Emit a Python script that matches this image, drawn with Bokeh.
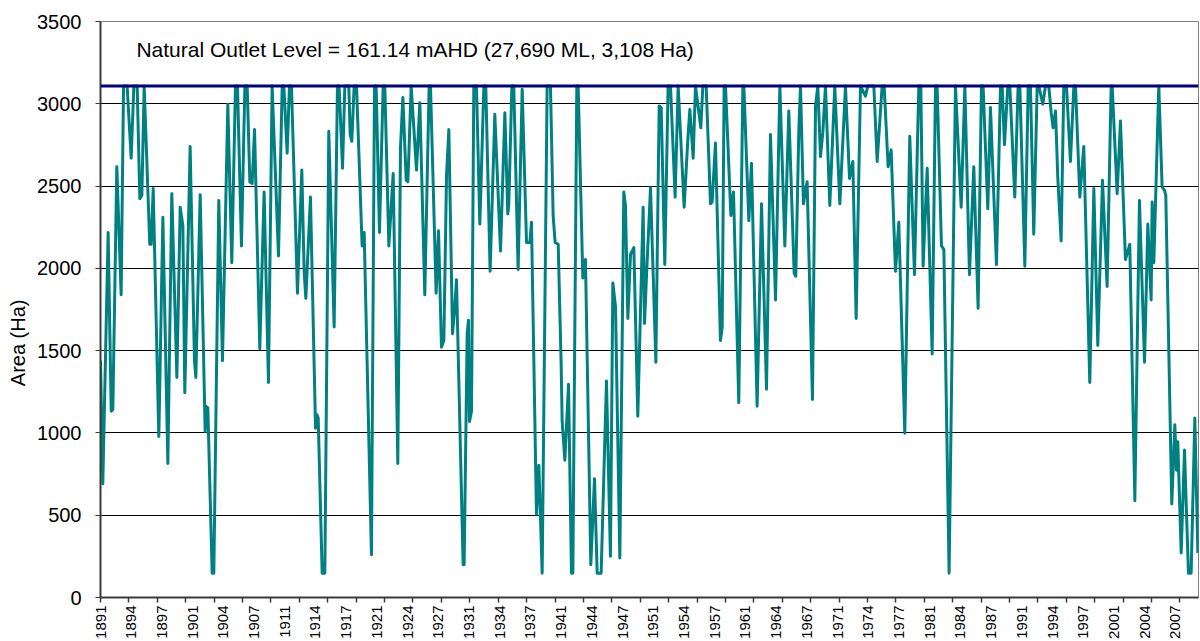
import math
from bokeh.plotting import figure
from bokeh.models import Range1d, FixedTicker, CustomJSTickFormatter, Span, Label
from bokeh.embed import file_html
from bokeh.resources import INLINE

# ---- data ----
years = [
    1891.00, 1891.25, 1891.83, 1892.16, 1892.34, 1892.77, 1893.24, 1893.50, 1893.89, 1894.33,
    1894.62, 1894.98, 1895.27, 1895.49, 1895.74, 1896.35, 1896.50, 1896.72, 1897.33, 1897.77,
    1898.31, 1898.74, 1899.29, 1899.65, 1899.94, 1900.15, 1900.73, 1901.20, 1901.35, 1901.82,
    1902.36, 1902.43, 1902.65, 1903.12, 1903.30, 1903.84, 1904.24, 1904.82, 1905.25, 1905.65,
    1905.87, 1906.30, 1906.67, 1906.92, 1907.21, 1907.46, 1907.72, 1908.29, 1908.76, 1909.23,
    1909.63, 1910.32, 1910.72, 1910.90, 1911.26, 1911.51, 1911.73, 1912.38, 1912.85, 1913.11,
    1913.29, 1913.79, 1914.34, 1914.48, 1914.63, 1915.06, 1915.35, 1915.78, 1916.36, 1916.72,
    1916.90, 1917.27, 1917.52, 1917.95, 1918.10, 1918.28, 1918.53, 1918.79, 1919.40, 1919.62,
    1920.41, 1920.74, 1920.92, 1921.28, 1921.68, 1921.86, 1922.30, 1922.77, 1923.27, 1923.56,
    1923.82, 1924.18, 1924.36, 1924.47, 1924.72, 1925.30, 1925.66, 1926.20, 1926.67, 1926.82,
    1927.43, 1927.69, 1928.01, 1928.27, 1928.56, 1928.81, 1929.21, 1929.46, 1929.64, 1930.36,
    1930.47, 1930.80, 1930.94, 1931.05, 1931.27, 1931.52, 1931.81, 1932.17, 1932.24, 1932.61,
    1932.82, 1933.29, 1933.80, 1934.42, 1934.89, 1935.21, 1935.32, 1935.65, 1935.86, 1936.33,
    1936.77, 1937.24, 1937.60, 1937.78, 1938.32, 1938.58, 1938.94, 1939.48, 1939.84, 1940.13,
    1940.35, 1940.68, 1941.00, 1941.11, 1941.40, 1941.80, 1942.12, 1942.27, 1942.70, 1942.85,
    1943.35, 1943.64, 1944.22, 1944.62, 1944.91, 1945.34, 1945.92, 1946.35, 1946.61, 1946.90,
    1947.37, 1947.80, 1947.98, 1948.24, 1948.53, 1948.89, 1949.32, 1949.90, 1950.05, 1950.30,
    1950.70, 1951.28, 1951.64, 1951.86, 1952.25, 1952.61, 1952.87, 1953.37, 1953.70, 1954.35,
    1954.75, 1954.97, 1955.33, 1955.58, 1956.16, 1956.38, 1956.74, 1957.21, 1957.39, 1957.75,
    1958.29, 1958.48, 1958.69, 1958.84, 1959.42, 1959.71, 1960.28, 1960.72, 1960.83, 1961.37,
    1961.66, 1962.27, 1962.75, 1963.29, 1963.72, 1964.27, 1964.74, 1965.28, 1965.71, 1966.29,
    1966.47, 1966.80, 1966.98, 1967.30, 1967.70, 1968.28, 1968.61, 1968.86, 1969.15, 1969.40,
    1969.69, 1970.16, 1970.70, 1971.25, 1971.86, 1972.30, 1972.66, 1973.02, 1973.49, 1974.03,
    1974.29, 1974.94, 1975.30, 1975.84, 1976.06, 1976.49, 1976.82, 1977.29, 1977.65, 1978.30,
    1978.84, 1979.35, 1979.82, 1980.04, 1980.29, 1980.73, 1981.27, 1981.63, 1981.81, 1982.28,
    1982.54, 1983.11, 1983.80, 1984.42, 1984.82, 1985.32, 1985.79, 1986.26, 1986.62, 1986.80,
    1987.31, 1987.60, 1988.25, 1988.69, 1988.87, 1989.12, 1989.48, 1989.70, 1990.24, 1990.60,
    1990.79, 1991.33, 1991.69, 1991.94, 1992.30, 1992.67, 1992.85, 1993.28, 1993.57, 1993.93,
    1994.19, 1994.40, 1994.66, 1994.91, 1995.27, 1995.56, 1995.85, 1996.28, 1996.65, 1996.83,
    1997.30, 1997.73, 1998.38, 1998.82, 1999.25, 1999.76, 2000.26, 2000.70, 2000.81, 2001.35,
    2001.71, 2002.25, 2002.72, 2003.27, 2003.77, 2004.32, 2004.68, 2005.04, 2005.15, 2005.33,
    2005.87, 2006.23, 2006.49, 2006.63, 2007.28, 2007.61, 2007.79, 2007.93, 2008.30, 2008.66,
    2009.09, 2009.38, 2009.78, 2010.11,
]
area_ha = [
    1439, 691, 2218, 1132, 1142, 2618, 1839, 3108, 3108, 2669,
    3108, 3108, 2423, 2444, 3108, 2146, 2146, 2485, 978, 2310,
    814, 2454, 1337, 2372, 2259, 1244, 2741, 1439, 1337, 2448,
    1009, 1162, 1152, 148, 148, 2413, 1439, 2997, 2034, 3108,
    3108, 2136, 3108, 3108, 2526, 2515, 2843, 1511, 2464, 1306,
    3108, 2075, 3108, 3108, 2700, 3108, 3108, 1849, 2597, 1972,
    1818, 2433, 1029, 1111, 1091, 148, 148, 2833, 1644, 3108,
    3108, 2608, 3108, 3108, 2813, 2772, 3108, 3108, 2136, 2218,
    260, 3108, 3108, 2218, 3108, 3108, 2136, 2577, 814, 2731,
    3038, 2536, 2526, 2690, 3108, 2597, 3007, 1839, 3108, 3108,
    1849, 2228, 1521, 1562, 2567, 2843, 1603, 1767, 1931, 199,
    199, 1603, 1685, 1070, 1132, 3108, 3108, 2269, 2392, 3108,
    3108, 1982, 2936, 2105, 2946, 2331, 2392, 3108, 3108, 1993,
    3089, 2157, 2157, 2280, 506, 804, 148, 3108, 3108, 2321,
    2157, 2146, 1419, 1070, 834, 1296, 148, 148, 3108, 3108,
    1941, 2054, 199, 722, 148, 148, 1316, 250, 1911, 1767,
    240, 2464, 2382, 1695, 2085, 2126, 1101, 2372, 1665, 2000,
    2490, 1429, 2987, 2977, 2023, 3108, 3108, 2433, 3108, 2372,
    2782, 2966, 2669, 3108, 2854, 3108, 3108, 2392, 2403, 2761,
    1562, 1644, 3108, 3108, 2321, 2464, 1183, 3108, 3108, 2290,
    2638, 1162, 2392, 1265, 2813, 1808, 3108, 2136, 2956, 1972,
    1952, 2843, 3108, 2392, 2526, 1203, 2987, 3108, 2679, 2823,
    3108, 2382, 3108, 2392, 3108, 2546, 2649, 1695, 3108, 3046,
    3108, 3108, 2649, 3108, 3108, 2618, 2720, 1982, 2280, 998,
    2802, 1962, 3108, 3108, 2013, 2608, 1480, 3108, 3108, 2136,
    2116, 148, 3108, 2372, 3108, 1962, 2618, 1757, 3108, 3108,
    2362, 2977, 2023, 3108, 3108, 2751, 3108, 3108, 2433, 3108,
    3108, 2013, 3108, 3108, 2208, 3108, 3108, 2997, 3108, 3108,
    2946, 2854, 2956, 2546, 2167, 3108, 3108, 2649, 3108, 3108,
    2433, 2741, 1306, 2485, 1531, 2536, 1890, 3108, 3108, 2454,
    2895, 2054, 2146, 588, 2413, 1429, 2269, 1808, 2403, 2034,
    3108, 2495, 2474, 2444, 568, 1050, 773, 947, 271, 896,
    148, 148, 1091, 271,
]
outlet_level_ha = 3108
outlet_text = "Natural Outlet Level = 161.14 mAHD (27,690 ML, 3,108 Ha)"
y_title = "Area (Ha)"
y_ticks = [0, 500, 1000, 1500, 2000, 2500, 3000, 3500]
label_start_year = 1891
label_step_months = 40
tick_step_months = 37
n_labels = 36
n_ticks = 39

label_pos = [label_start_year + k * label_step_months / 12 for k in range(n_labels)]
tick_pos = [label_start_year + k * tick_step_months / 12 for k in range(n_ticks)]

FONT = "Liberation Sans"
AXIS_COL = "#3a3a3a"

p = figure(width=1200, height=641, output_backend="svg", toolbar_location=None,
           x_range=Range1d(1891.0, 2010.18), y_range=Range1d(0, 3500),
           min_border_left=100, min_border_right=2, min_border_top=21, min_border_bottom=44)
p.background_fill_color = "white"
p.border_fill_color = "white"
p.outline_line_color = "#808080"
p.outline_line_width = 1

p.xgrid.visible = False
p.ygrid.grid_line_color = "black"
p.ygrid.grid_line_width = 1
p.ygrid.grid_line_alpha = 1.0

# y axis (title padded with non-breaking spaces so it sits lower, as in the source,
# where the title is centred on the whole chart height)
p.yaxis.ticker = FixedTicker(ticks=y_ticks)
p.yaxis.axis_label = y_title + "\u00a0" * 12
p.yaxis.axis_label_text_font = FONT
p.yaxis.axis_label_text_font_size = "20px"
p.yaxis.axis_label_text_font_style = "normal"
p.yaxis.axis_label_text_color = "black"
p.yaxis.axis_label_standoff = 5
p.yaxis.major_label_text_font = FONT
p.yaxis.major_label_text_font_size = "20px"
p.yaxis.major_label_text_color = "black"
p.yaxis.major_label_standoff = 14
p.yaxis.major_tick_out = 5
p.yaxis.major_tick_in = 0
p.yaxis.major_tick_line_color = AXIS_COL
p.yaxis.minor_tick_line_color = None
p.yaxis.axis_line_color = AXIS_COL
p.yaxis.axis_line_width = 2

# x axis
p.xaxis.ticker = FixedTicker(ticks=label_pos, minor_ticks=tick_pos)
p.xaxis.formatter = CustomJSTickFormatter(code="return String(Math.floor(tick + 1e-6));")
p.xaxis.major_label_orientation = math.pi / 2
p.xaxis.major_label_text_font = FONT
p.xaxis.major_label_text_font_size = "15px"
p.xaxis.major_label_text_color = "black"
p.xaxis.major_label_standoff = 3
p.xaxis.major_tick_line_color = None
p.xaxis.major_tick_out = 4
p.xaxis.major_tick_in = 0
p.xaxis.minor_tick_line_color = AXIS_COL
p.xaxis.minor_tick_line_width = 1.5
p.xaxis.minor_tick_out = 5
p.xaxis.minor_tick_in = 0
p.xaxis.axis_line_color = AXIS_COL
p.xaxis.axis_line_width = 2

# data line
p.line(years, area_ha, line_color="#008080", line_width=3, line_join="round")

# natural outlet level
p.add_layout(Span(location=outlet_level_ha, dimension="width", line_color="#000080", line_width=3))
p.add_layout(Label(x=1894.9, y=3332, text=outlet_text, text_font=FONT, text_font_size="21px",
                   text_color="black", text_align="left", text_baseline="alphabetic"))

open("out.html", "w").write(file_html(p, INLINE))
